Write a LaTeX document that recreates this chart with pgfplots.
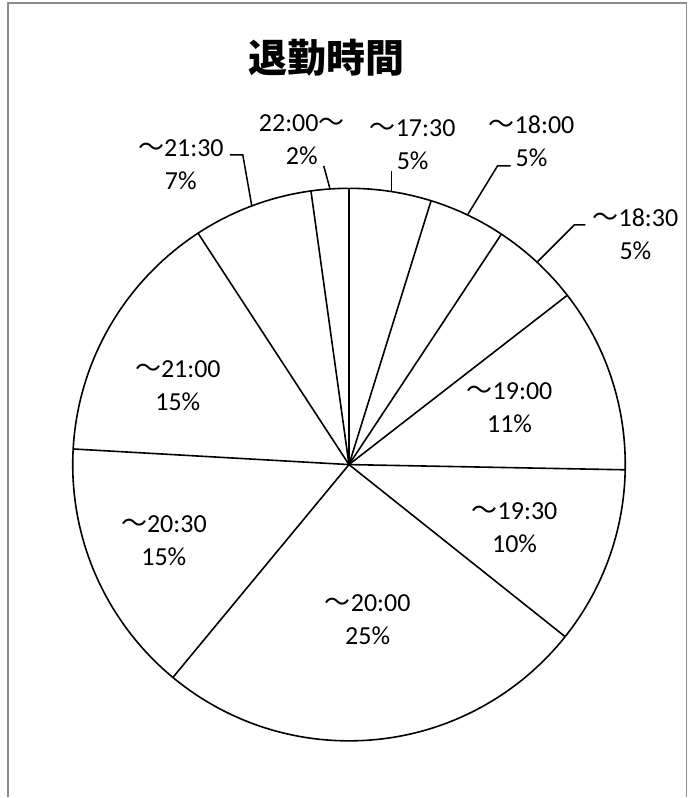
\documentclass[border=0pt]{standalone}
\usepackage{fontspec}
\setmainfont{Carlito}
\newfontfamily\cjk{Noto Sans CJK JP}
\usepackage{pgfplots}
\usepackage{pgfplotstable}
\pgfplotsset{compat=1.18}

% share of each slice (percent), clockwise from 12 o'clock
\pgfplotstableread{
label pct
17:30 4.8
18:00 4.5
18:30 5.2
19:00 10.8
19:30 10.4
20:00 25.3
20:30 14.9
21:00 14.9
21:30 7.0
22:00 2.2
}\data
\pgfplotstablecreatecol[create col/expr accum={\pgfmathaccuma + \thisrow{pct}}{0}]{cum}\data

\newcommand{\T}{{\cjk ～}}
\tikzset{lab/.style={align=center, font=\fontsize{26}{33}\selectfont, inner sep=0pt}}

\begin{document}
\begin{tikzpicture}
\begin{axis}[
  x=1pt, y=1pt,
  xmin=0, xmax=696, ymin=0, ymax=798,
  hide axis, clip=false,
]
\fill[white] (axis cs:0,0) rectangle (axis cs:696,798);
% chart frame
\draw[color=black!45, line width=1.4pt] (axis cs:8,0) -- (axis cs:8,795) -- (axis cs:687,795) -- (axis cs:687,0);
% pie outline
\draw[black, line width=1.6pt] (axis cs:349.3,333) circle[radius=276.5pt];
% slice boundaries from the data
\pgfplotstablegetrowsof{\data}
\pgfmathtruncatemacro\N{\pgfplotsretval-1}
\pgfplotsforeachungrouped \i in {0,...,\N}{%
  \pgfplotstablegetelem{\i}{cum}\of\data
  \pgfmathsetmacro\ex{349.3+276.5*sin(3.6*\pgfplotsretval)}%
  \pgfmathsetmacro\ey{333+276.5*cos(3.6*\pgfplotsretval)}%
  \edef\tmp{\noexpand\addplot[black, line width=1.6pt, mark=none] coordinates {(349.3,333) (\ex,\ey)};}%
  \tmp
}
% leader lines
\addplot[black, line width=1.5pt, mark=none] coordinates {(230,643) (243,643) (252,592)};
\addplot[black, line width=1.5pt, mark=none] coordinates {(324,632) (330,610)};
\addplot[black, line width=1.5pt, mark=none] coordinates {(392,627) (392,607)};
\addplot[black, line width=1.5pt, mark=none] coordinates {(511,632) (498,632) (468,583)};
\addplot[black, line width=1.5pt, mark=none] coordinates {(586,573) (575,573) (538,536)};
% title
\node[font={\cjk\bfseries\fontsize{39}{40}\selectfont}, inner sep=0pt] at (axis cs:327,740) {退勤時間};
% labels
\node[lab] at (axis cs:302,658) {22:00\T\\2\%};
\node[lab] at (axis cs:181,633) {\T21:30\\7\%};
\node[lab] at (axis cs:413,653) {\T17:30\\5\%};
\node[lab] at (axis cs:532,656.5) {\T18:00\\5\%};
\node[lab] at (axis cs:636,563.5) {\T18:30\\5\%};
\node[lab] at (axis cs:510,389.5) {\T19:00\\11\%};
\node[lab] at (axis cs:515,269.5) {\T19:30\\10\%};
\node[lab] at (axis cs:368,177.5) {\T20:00\\25\%};
\node[lab] at (axis cs:178,411.5) {\T21:00\\15\%};
\node[lab] at (axis cs:164,256.5) {\T20:30\\15\%};
\end{axis}
\end{tikzpicture}
\end{document}
